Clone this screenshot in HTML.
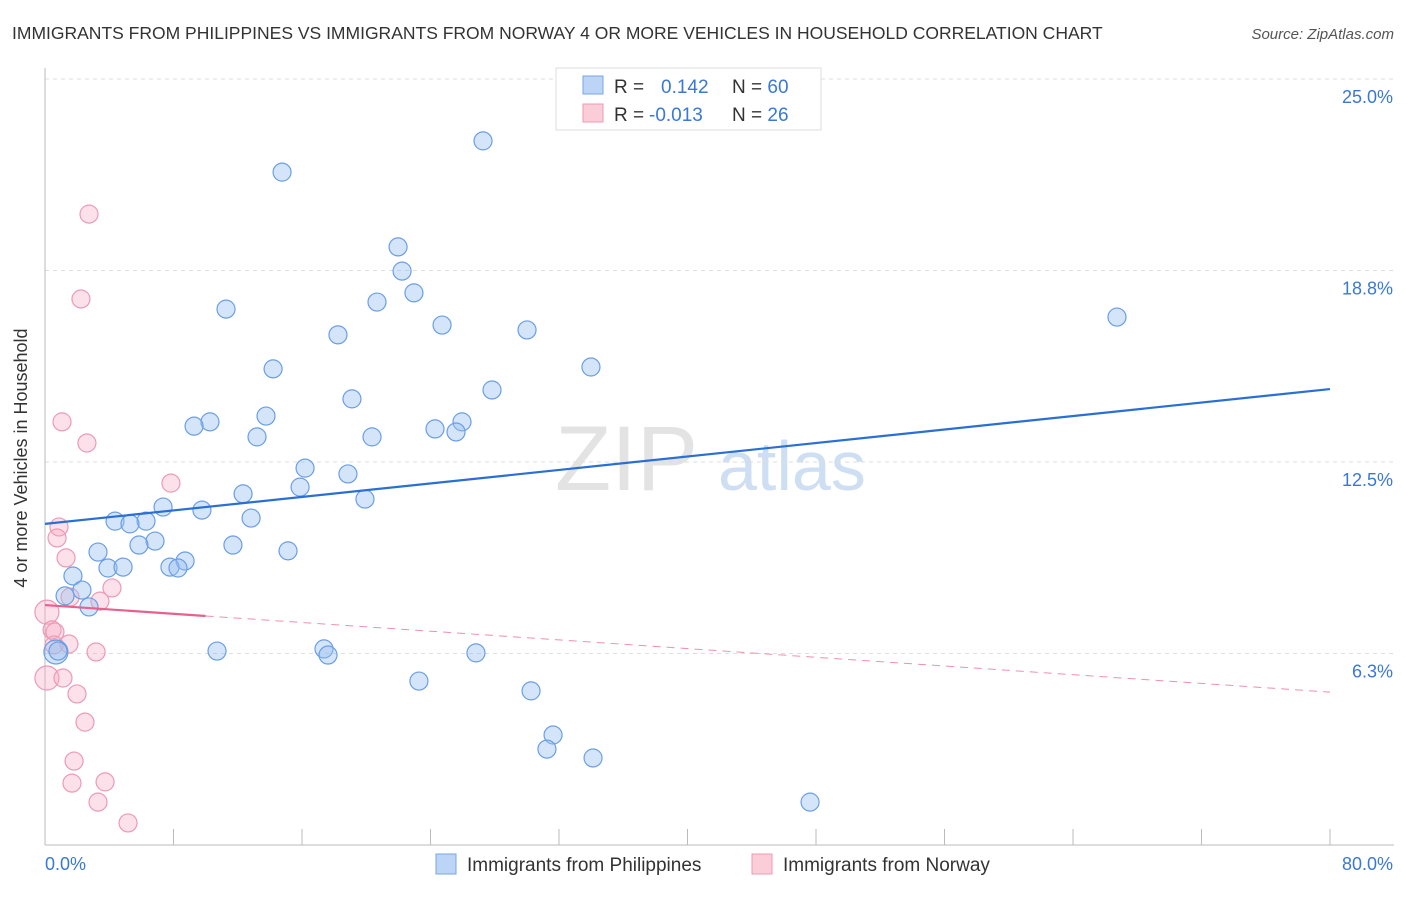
<!DOCTYPE html>
<html><head><meta charset="utf-8"><style>
body{margin:0;background:#fff;font-family:"Liberation Sans",sans-serif;}
svg text{font-family:"Liberation Sans",sans-serif;}
</style></head><body>
<svg width="1406" height="892" viewBox="0 0 1406 892" xmlns="http://www.w3.org/2000/svg">
<text x="12" y="39" font-size="17.5" fill="#333">IMMIGRANTS FROM PHILIPPINES VS IMMIGRANTS FROM NORWAY 4 OR MORE VEHICLES IN HOUSEHOLD CORRELATION CHART</text>
<text x="1394" y="39" font-size="15" fill="#555" font-style="italic" text-anchor="end">Source: ZipAtlas.com</text>
<g>
<text x="555" y="490" font-size="92" fill="#e3e3e3" font-family="Liberation Serif,serif">ZIP</text>
<text x="718" y="490" font-size="70" fill="#cfdff3">atlas</text>
</g>
<g id="grid"></g>
<g id="axes"></g>
<g id="pts"></g>
<g id="trend"></g>
<text x="27" y="458" font-size="18" fill="#333" text-anchor="middle" transform="rotate(-90 27 458)">4 or more Vehicles in Household</text>
<g>
<rect x="556" y="68" width="265" height="62" fill="#fff" stroke="#ddd"/>
<rect x="583" y="76" width="20" height="18" fill="#bcd4f5" stroke="#7aa6e6"/>
<rect x="583" y="104" width="20" height="18" fill="#fbcdd9" stroke="#ef9ab3"/>
<text x="614" y="93" font-size="19" fill="#333">R = <tspan fill="#3a78d6" x="661">0.142</tspan><tspan x="732">N = </tspan><tspan fill="#3a78d6">60</tspan></text>
<text x="614" y="121" font-size="19" fill="#333">R = <tspan fill="#3a78d6" x="649">-0.013</tspan><tspan x="732">N = </tspan><tspan fill="#3a78d6"> 26</tspan></text>
</g>
<g>
<rect x="436" y="854" width="20" height="20" fill="#bcd4f5" stroke="#7aa6e6"/>
<text x="467" y="871" font-size="19" fill="#333">Immigrants from Philippines</text>
<rect x="752" y="854" width="20" height="20" fill="#fbcdd9" stroke="#ef9ab3"/>
<text x="783" y="871" font-size="19" fill="#333">Immigrants from Norway</text>
</g>
</svg>
<script>
const blueX=[27.27,14.76,21.98,22.23,11.27,20.67,22.97,18.24,24.72,30.01,66.74,14.20,33.99,27.83,19.11,13.76,10.27,9.28,13.20,20.36,24.28,25.96,25.59,16.19,18.86,15.88,12.33,19.92,7.35,9.77,12.83,4.36,6.29,5.29,6.85,5.85,11.70,3.30,15.13,8.72,7.78,3.92,8.28,4.86,1.74,2.30,1.25,2.74,10.71,17.37,17.62,26.83,0.68,0.81,23.28,30.26,31.63,31.25,34.12,47.63];
const blueY=[22.98,21.96,19.52,18.73,17.49,17.72,18.02,16.65,16.97,16.81,17.23,15.54,15.60,14.85,14.56,14.00,13.81,13.67,13.32,13.32,13.58,13.81,13.48,12.30,12.11,11.68,11.46,11.29,11.03,10.93,10.67,10.57,10.57,10.48,9.92,9.79,9.79,9.56,9.60,9.27,9.07,9.04,9.04,9.07,8.78,8.32,8.13,7.77,6.33,6.40,6.20,6.27,6.30,6.33,5.35,5.03,3.59,3.13,2.84,1.40];
const pinkX=[2.74,2.24,1.06,2.61,7.84,0.87,0.75,1.31,4.17,1.56,3.42,0.12,0.44,0.62,1.49,0.56,3.18,0.12,1.12,1.99,2.49,1.81,1.68,3.74,3.30,5.17];
const pinkY=[20.59,17.82,13.81,13.12,11.81,10.38,10.02,9.37,8.39,8.09,7.96,7.60,7.02,6.95,6.56,6.53,6.30,5.45,5.45,4.93,4.01,2.74,2.02,2.06,1.40,0.72];
const blueTrend=[10.48,14.88];
const pinkTrend=[7.83,4.99];
const pinkSolidEnd=10;
const yTicks=[25,18.75,12.5,6.25];
const yTickLabels=["25.0%","18.8%","12.5%","6.3%"];
const xTickVals=[0,8,16,24,32,40,48,56,64,72,80];
const NS="http://www.w3.org/2000/svg";
const X0=45,X1=1330,Y0=845;
function sx(v){return X0+(v/80)*(X1-X0);}
function sy(v){return Y0-v*(191.5/6.25);}
function mk(tag,attrs,parent){const e=document.createElementNS(NS,tag);for(const k in attrs)e.setAttribute(k,attrs[k]);parent.appendChild(e);return e;}
const grid=document.getElementById('grid'),axes=document.getElementById('axes'),pts=document.getElementById('pts'),trend=document.getElementById('trend');
yTicks.forEach((t,i)=>{
 const l=mk('line',{x1:X0,x2:1394,y1:sy(t),y2:sy(t),stroke:'#ddd','stroke-dasharray':'4,4'},grid);
 
 
 const tx=mk('text',{x:1393,y:sy(t)+24,'font-size':18,fill:'#3a78d6','text-anchor':'end'},grid);
 tx.textContent=yTickLabels[i];
 
 
});
const ax=mk('line',{x1:X0,x2:X0,y1:68,y2:Y0,stroke:'#bbb'},axes);


const bx=mk('line',{x1:X0,x2:1394,y1:Y0,y2:Y0,stroke:'#bbb'},axes);


xTickVals.forEach(v=>{
 const t=mk('line',{x1:sx(v),x2:sx(v),y1:829,y2:Y0,stroke:'#bbb'},axes);
 
 
});
const xl0=mk('text',{x:45,y:870,'font-size':18,fill:'#3a78d6'},axes);
xl0.textContent='0.0%';


const xl1=mk('text',{x:1393,y:870,'font-size':18,fill:'#3a78d6','text-anchor':'end'},axes);
xl1.textContent='80.0%';


pinkX.forEach((x,i)=>{
 const r=(x<0.2)?12:9;
 const c=mk('circle',{cx:sx(x),cy:sy(pinkY[i]),r:r,fill:'rgba(246,170,195,0.35)',stroke:'#ee9ab4','stroke-width':1.2},pts);
 
 
});
blueX.forEach((x,i)=>{
 const r=(x<0.75)?12:9;
 const c=mk('circle',{cx:sx(x),cy:sy(blueY[i]),r:r,fill:'rgba(150,190,240,0.4)',stroke:'#6a9ee6','stroke-width':1.2},pts);
 
 
});
const bl=mk('line',{x1:sx(0),y1:sy(blueTrend[0]),x2:sx(80),y2:sy(blueTrend[1]),stroke:'#2a6fd4','stroke-width':2.2},trend);


const pAt=v=>pinkTrend[0]+(pinkTrend[1]-pinkTrend[0])*v/80;
const ps=mk('line',{x1:sx(0),y1:sy(pinkTrend[0]),x2:sx(pinkSolidEnd),y2:sy(pAt(pinkSolidEnd)),stroke:'#e8608c','stroke-width':2.2},trend);


const pd=mk('line',{x1:sx(pinkSolidEnd),y1:sy(pAt(pinkSolidEnd)),x2:sx(80),y2:sy(pinkTrend[1]),stroke:'#ee90ae','stroke-width':1,'stroke-dasharray':'8,6'},trend);


</script>
</body></html>
